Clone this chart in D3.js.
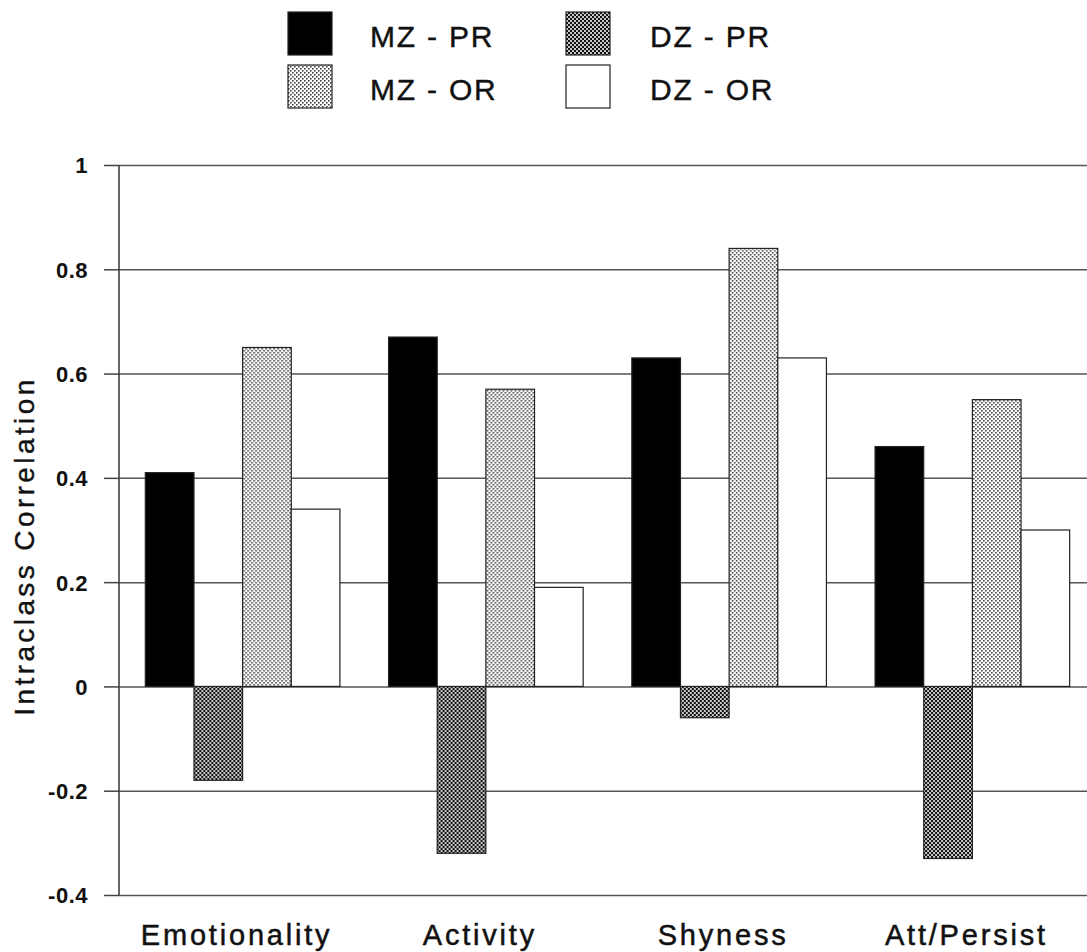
<!DOCTYPE html>
<html>
<head>
<meta charset="utf-8">
<script src="https://cdn.jsdelivr.net/npm/d3@7"></script>
<style>
  html, body { margin: 0; padding: 0; background: #fff; }
  svg { display: block; }
  text { font-family: "Liberation Sans", Arial, sans-serif; fill: #111; }
</style>
</head>
<body>
<svg id="chart" width="1087" height="952"></svg>
<script>
const categories = ["Emotionality", "Activity", "Shyness", "Att/Persist"];
const seriesNames = ["MZ - PR", "DZ - PR", "MZ - OR", "DZ - OR"];
const mzPR = [0.41, 0.67, 0.63, 0.46];
const dzPR = [-0.18, -0.32, -0.06, -0.33];
const mzOR = [0.65, 0.57, 0.84, 0.55];
const dzOR = [0.34, 0.19, 0.63, 0.30];
const yTicks = [-0.4, -0.2, 0, 0.2, 0.4, 0.6, 0.8, 1];
const yTickLabels = ["-0.4", "-0.2", "0", "0.2", "0.4", "0.6", "0.8", "1"];
const yTitle = "Intraclass Correlation";

const seriesValues = [mzPR, dzPR, mzOR, dzOR];
const svg = d3.select("#chart");

// patterns
const defs = svg.append("defs");
const pLight = defs.append("pattern").attr("id", "pLight").attr("patternUnits", "userSpaceOnUse")
  .attr("width", 4).attr("height", 4);
pLight.append("rect").attr("width", 4).attr("height", 4).attr("fill", "#fff");
pLight.append("rect").attr("x", 0).attr("y", 0).attr("width", 1.6).attr("height", 1.6).attr("fill", "#444");
pLight.append("rect").attr("x", 2).attr("y", 2).attr("width", 1.6).attr("height", 1.6).attr("fill", "#444");
const pDark = defs.append("pattern").attr("id", "pDark").attr("patternUnits", "userSpaceOnUse")
  .attr("width", 4).attr("height", 4);
pDark.append("rect").attr("width", 4).attr("height", 4).attr("fill", "#c8c8c8");
pDark.append("rect").attr("x", 0).attr("y", 0).attr("width", 2).attr("height", 2).attr("fill", "#111");
pDark.append("rect").attr("x", 2).attr("y", 2).attr("width", 2).attr("height", 2).attr("fill", "#111");

const fills = ["#000", "url(#pDark)", "url(#pLight)", "#fff"];

const plotLeft = 119, yTop = 165, yBottom = 895;
const bandLeft = 121, bandRight = 1094;

const y = d3.scaleLinear().domain([-0.4, 1]).range([yBottom, yTop]);
const x0 = d3.scaleBand().domain(categories).range([bandLeft, bandRight])
  .paddingInner(0.2).paddingOuter(0.1);
const x1 = d3.scaleBand().domain(d3.range(seriesNames.length)).range([0, x0.bandwidth()]);

// gridlines
const gridG = svg.append("g").attr("transform", `translate(${plotLeft},0)`);
gridG.call(d3.axisLeft(y).tickValues(yTicks).tickSize(-(1087 - plotLeft)).tickFormat(""))
  .call(g => g.select(".domain").remove())
  .call(g => g.selectAll("line").attr("stroke", "#555").attr("stroke-width", 1.5));

// y axis with ticks and labels
const yAxisG = svg.append("g").attr("transform", `translate(${plotLeft},0)`);
yAxisG.call(d3.axisLeft(y).tickValues(yTicks).tickSize(15).tickPadding(16)
    .tickFormat((d, i) => yTickLabels[i]))
  .call(g => g.select(".domain").attr("stroke", "#333").attr("stroke-width", 1.5)
     .attr("d", `M0,${yTop}V${yBottom}`))
  .call(g => g.selectAll("line").attr("stroke", "#444").attr("stroke-width", 1.5))
  .call(g => g.selectAll("text").attr("font-size", 22).attr("font-weight", "bold")
     .attr("font-family", "Liberation Sans, Arial, sans-serif").attr("fill", "#111")
     .attr("letter-spacing", 0.5).attr("dy", "0.36em"));

// bars
const groups = svg.append("g").selectAll("g").data(categories).join("g")
  .attr("transform", d => `translate(${x0(d)},0)`);
groups.selectAll("rect")
  .data((c, ci) => seriesValues.map((vals, si) => ({ si, v: vals[ci] })))
  .join("rect")
  .attr("x", d => x1(d.si))
  .attr("width", x1.bandwidth())
  .attr("y", d => y(Math.max(0, d.v)))
  .attr("height", d => Math.abs(y(d.v) - y(0)))
  .attr("fill", d => fills[d.si])
  .attr("stroke", "#222")
  .attr("stroke-width", 1.2);

// x labels
svg.append("g").selectAll("text").data(categories).join("text")
  .attr("x", d => x0(d) + x0.bandwidth() / 2 - 6)
  .attr("y", 945)
  .attr("text-anchor", "middle")
  .attr("font-size", 29)
  .attr("letter-spacing", 2.8)
  .attr("stroke", "#111").attr("stroke-width", 0.5)
  .text(d => d);

// y title
svg.append("text")
  .attr("transform", "translate(34,546) rotate(-90)")
  .attr("text-anchor", "middle")
  .attr("font-size", 28)
  .attr("letter-spacing", 3.4)
  .attr("stroke", "#111").attr("stroke-width", 0.4)
  .text(yTitle);

// legend
const legendPos = [
  { sx: 288, sy: 12, tx: 370, ty: 47 },
  { sx: 566, sy: 12, tx: 650, ty: 47 },
  { sx: 288, sy: 65, tx: 370, ty: 100 },
  { sx: 566, sy: 65, tx: 650, ty: 100 }
];
const legend = svg.append("g").selectAll("g").data(seriesNames).join("g");
legend.append("rect")
  .attr("x", (d, i) => legendPos[i].sx)
  .attr("y", (d, i) => legendPos[i].sy)
  .attr("width", 44).attr("height", 43)
  .attr("fill", (d, i) => fills[i])
  .attr("stroke", "#222").attr("stroke-width", 1.2);
legend.append("text")
  .attr("x", (d, i) => legendPos[i].tx)
  .attr("y", (d, i) => legendPos[i].ty)
  .attr("font-size", 30)
  .attr("letter-spacing", 1.8)
  .attr("stroke", "#111").attr("stroke-width", 0.4)
  .text(d => d);
</script>
</body>
</html>
